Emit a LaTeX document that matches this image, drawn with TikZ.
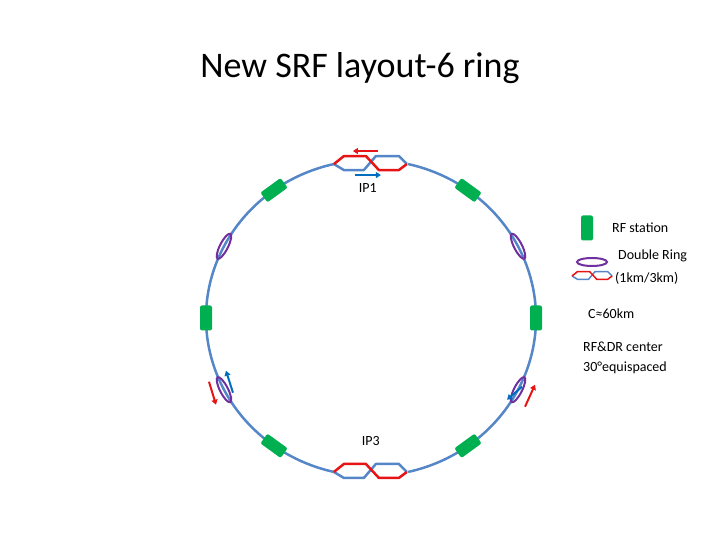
\documentclass[tikz,border=0pt]{standalone}
\usepackage{fontspec}
\setmainfont{Carlito}
\usepackage{tikz}
\usetikzlibrary{calc,positioning,shapes.geometric,arrows.meta}
\definecolor{ringblue}{RGB}{85,135,200}
\definecolor{beamred}{RGB}{230,20,20}
\definecolor{beamblue}{RGB}{0,110,190}
\definecolor{rfgreen}{RGB}{0,176,80}
\definecolor{drpurple}{RGB}{112,48,160}

\begin{document}
\begin{tikzpicture}[
    x=1pt, y=1pt,
    ring/.style={ringblue, line width=2.5pt},
    rfstation/.style={rectangle, fill=rfgreen, rounded corners=2pt, minimum width=25pt, minimum height=12pt, inner sep=0pt},
    doublering/.style={ellipse, draw=drpurple, line width=2pt, minimum width=28pt, minimum height=8pt, inner sep=0pt},
    beam/.style={line width=2pt, -{Triangle[length=5pt,width=6pt]}},
    label/.style={font=\fontsize{14}{16}\selectfont, inner sep=0pt}
]
\useasboundingbox (0,0) rectangle (720,540);

% Title
\node (title) at (360,472) {\fontsize{36}{40}\selectfont New SRF layout-6 ring};

% Ring, broken at the two interaction points
\draw[ring] (371,222) ++(103:165 and 158) arc[start angle=103, end angle=257, x radius=165, y radius=158];
\draw[ring] (371,222) ++(-77:165 and 158) arc[start angle=-77, end angle=77, x radius=165, y radius=158];
\coordinate (ip1) at ($(371,222)+(103:165 and 158)$);
\coordinate (ip3) at ($(371,222)+(257:165 and 158)$);

% Crossing of the two rings at IP1 and IP3
\foreach \ip in {ip1,ip3}{
    \draw[ringblue, line width=2.5pt, line join=round, shift={(\ip)}] (0,0)--(10,-6)--(30,-6)--(42,8)--(65,8)--(73,0);
    \draw[beamred, line width=2.5pt, line join=round, shift={(\ip)}] (0,0)--(10,8)--(32,8)--(45,-6)--(65,-6)--(73,0);
}
\node[label] (ip1label) at ($(ip1)+(34,-24)$) {IP1};
\node[label] (ip3label) at ($(ip3)+(37,31)$) {IP3};
\coordinate (ip1redtail) at ($(ip1)+(44,13)$);
\coordinate (ip1redhead) at ($(ip1)+(19,13)$);
\coordinate (ip1bluetail) at ($(ip1)+(21,-11)$);
\coordinate (ip1bluehead) at ($(ip1)+(47,-11)$);
\draw[beam, beamred] (ip1redtail) -- (ip1redhead);
\draw[beam, beamblue] (ip1bluetail) -- (ip1bluehead);

% RF stations
\foreach \a in {0,54,126,180,234,306}
    \node[rfstation, rotate=\a+90] (rf\a) at ($(371,222)+(\a:165 and 158)$) {};

% Damping rings
\foreach \a in {27,153,207,333}
    \node[doublering, rotate=\a+90] (dr\a) at ($(371,222)+(\a:165 and 158)$) {};

% Beams at the lower damping rings
\draw[beam, beamred] ($(dr207)+(-15,8)$) -- ($(dr207)+(-8,-15)$);
\draw[beam, beamblue] ($(dr207)+(9,-3)$) -- ($(dr207)+(2,19)$);
\draw[beam, beamblue] ($(dr333)+(4,3)$) -- ($(dr333)+(-11,-10)$);
\draw[beam, beamred] ($(dr333)+(7,-17)$) -- ($(dr333)+(17,5)$);

% Legend
\node[rfstation, rotate=90] (keyrf) at (587,312) {};
\node[label, anchor=west] (keyrftext) at (612,312) {RF station};
\node[doublering, minimum width=30pt] (keydr) at (592,278) {};
\begin{scope}[shift={(572,264)}, scale=0.55]
    \draw[ringblue, line width=1.5pt] (0,0)--(10,-6)--(30,-6)--(42,8)--(65,8)--(73,0);
    \draw[beamred, line width=1.5pt] (0,0)--(10,8)--(32,8)--(45,-6)--(65,-6)--(73,0);
\end{scope}
\node[label, anchor=west] (keydrtext) at (618,284) {Double Ring};
\node[label, anchor=west] (keydrsize) at (615,262) {(1km/3km)};
\node[label, anchor=west] (circum) at (588,226) {C≈60km};
\node[label, anchor=west] (centre) at (583,193) {RF\&DR center};
\node[label, anchor=west] (spacing) at (583,172) {30°equispaced};
\end{tikzpicture}
\end{document}
